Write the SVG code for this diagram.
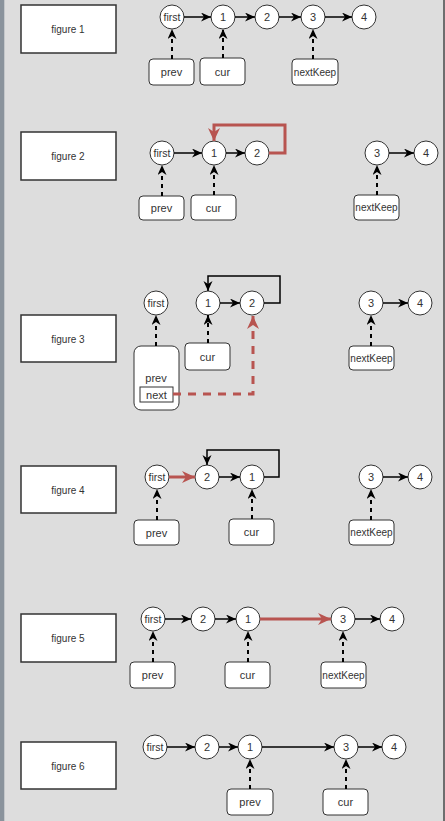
<svg xmlns="http://www.w3.org/2000/svg" width="445" height="821" viewBox="0 0 445 821">
<style>
text{font-family:"Liberation Sans",Arial,sans-serif;font-size:11px;fill:#333;text-anchor:middle;dominant-baseline:central}
.lab{fill:#fff;stroke:#333;stroke-width:1.5}
.c{fill:#fff;stroke:#333;stroke-width:1}
.b{fill:#fff;stroke:#333;stroke-width:1}
.e{fill:none;stroke:#000;stroke-width:1.5;marker-end:url(#ah)}
.d{fill:none;stroke:#000;stroke-width:2;stroke-dasharray:4 4;marker-end:url(#ah)}
.r{fill:none;stroke:#b85450;stroke-width:3;marker-end:url(#rh)}
.rd{fill:none;stroke:#b85450;stroke-width:3;stroke-dasharray:8 7;marker-end:url(#rh)}
.f{font-size:10.5px}
.k{font-size:10px}
.t{font-size:10px}
</style>
<defs>
<marker id="ah" markerUnits="userSpaceOnUse" markerWidth="11" markerHeight="10" refX="10" refY="4.5" orient="auto"><path d="M0,0 L10,4.5 L0,9 L3,4.5 z" fill="#000"/></marker>
<marker id="rh" markerUnits="userSpaceOnUse" markerWidth="15" markerHeight="13" refX="13" refY="6" orient="auto"><path d="M0,0 L13,6 L0,12 L4,6 z" fill="#b85450"/></marker>
</defs>
<rect x="0" y="0" width="445" height="821" fill="#dddddd"/>
<rect x="0" y="0" width="4" height="821" fill="#8a939c"/>
<rect x="4" y="0" width="1" height="821" fill="#c4c7ca"/>
<rect x="443" y="0" width="2" height="821" fill="#6e6e6e"/>

<!-- figure 1 -->
<g id="fig1-label"><rect class="lab" x="21" y="5" width="95" height="48"/><text class="t" x="68" y="29">figure 1</text></g>
<g id="fig1-first"><circle class="c" cx="172" cy="17" r="12"/><text class="f" x="172" y="17">first</text></g>
<g id="fig1-n1"><circle class="c" cx="223" cy="17" r="12"/><text x="223" y="17">1</text></g>
<g id="fig1-n2"><circle class="c" cx="267" cy="17" r="12"/><text x="267" y="17">2</text></g>
<g id="fig1-n3"><circle class="c" cx="313" cy="17" r="12"/><text x="313" y="17">3</text></g>
<g id="fig1-n4"><circle class="c" cx="364" cy="17" r="12"/><text x="364" y="17">4</text></g>
<g id="fig1-prev"><rect class="b" x="149" y="59" width="45" height="26" rx="4"/><text x="171.5" y="72">prev</text></g>
<g id="fig1-cur"><rect class="b" x="200" y="58" width="45" height="27" rx="4"/><text x="222.5" y="71.5">cur</text></g>
<g id="fig1-nextKeep"><rect class="b" x="292" y="59" width="46" height="26" rx="4"/><text class="k" x="315" y="72">nextKeep</text></g>
<g id="fig1-edges">
<path class="e" d="M184,17 L211,17"/><path class="e" d="M235,17 L255,17"/><path class="e" d="M279,17 L301,17"/><path class="e" d="M325,17 L352,17"/>
<path class="d" d="M172,59 L172,29"/><path class="d" d="M223,58 L223,29"/><path class="d" d="M313,59 L313,29"/>
</g>

<!-- figure 2 -->
<g id="fig2-label"><rect class="lab" x="21" y="132" width="95" height="48"/><text class="t" x="68" y="156">figure 2</text></g>
<g id="fig2-first"><circle class="c" cx="162" cy="153" r="12"/><text class="f" x="162" y="153">first</text></g>
<g id="fig2-n1"><circle class="c" cx="214" cy="153" r="12"/><text x="214" y="153">1</text></g>
<g id="fig2-n2"><circle class="c" cx="257" cy="153" r="12"/><text x="257" y="153">2</text></g>
<g id="fig2-n3"><circle class="c" cx="377" cy="153" r="12"/><text x="377" y="153">3</text></g>
<g id="fig2-n4"><circle class="c" cx="426" cy="153" r="12"/><text x="426" y="153">4</text></g>
<g id="fig2-prev"><rect class="b" x="139" y="196" width="45" height="24" rx="4"/><text x="161.5" y="208">prev</text></g>
<g id="fig2-cur"><rect class="b" x="191" y="195" width="45" height="25" rx="4"/><text x="213.5" y="207.5">cur</text></g>
<g id="fig2-nextKeep"><rect class="b" x="354" y="195" width="45" height="25" rx="4"/><text class="k" x="376.5" y="207.5">nextKeep</text></g>
<g id="fig2-edges">
<path class="e" d="M174,153 L202,153"/><path class="e" d="M226,153 L245,153"/><path class="e" d="M389,153 L414,153"/>
<path class="r" d="M269,153 L285,153 L285,125 L214,125 L214,141"/>
<path class="d" d="M162,196 L162,165"/><path class="d" d="M214,195 L214,165"/><path class="d" d="M377,195 L377,165"/>
</g>

<!-- figure 3 -->
<g id="fig3-label"><rect class="lab" x="21" y="315" width="95" height="47"/><text class="t" x="68" y="339">figure 3</text></g>
<g id="fig3-first"><circle class="c" cx="156" cy="303" r="12"/><text class="f" x="156" y="303">first</text></g>
<g id="fig3-n1"><circle class="c" cx="208" cy="303" r="12"/><text x="208" y="303">1</text></g>
<g id="fig3-n2"><circle class="c" cx="252" cy="303" r="12"/><text x="252" y="303">2</text></g>
<g id="fig3-n3"><circle class="c" cx="371" cy="303" r="12"/><text x="371" y="303">3</text></g>
<g id="fig3-n4"><circle class="c" cx="420" cy="303" r="12"/><text x="420" y="303">4</text></g>
<g id="fig3-prev"><rect class="b" x="134" y="346" width="45" height="64" rx="7"/><text x="156" y="378">prev</text><rect class="b" x="140" y="387" width="33" height="15"/><text x="156.5" y="394.5">next</text></g>
<g id="fig3-cur"><rect class="b" x="185" y="343" width="45" height="27" rx="4"/><text x="207.5" y="356.5">cur</text></g>
<g id="fig3-nextKeep"><rect class="b" x="349" y="346" width="45" height="24" rx="4"/><text class="k" x="371.5" y="358">nextKeep</text></g>
<g id="fig3-edges">
<path class="e" d="M220,303 L240,303"/><path class="e" d="M383,303 L408,303"/>
<path class="e" d="M264,303 L280,303 L280,276 L208,276 L208,291"/>
<path class="d" d="M156,346 L156,315"/><path class="d" d="M208,343 L208,315"/><path class="d" d="M371,346 L371,315"/>
<path class="rd" d="M173,394 L253,394 L253,316"/>
</g>

<!-- figure 4 -->
<g id="fig4-label"><rect class="lab" x="21" y="466" width="95" height="47"/><text class="t" x="68" y="490">figure 4</text></g>
<g id="fig4-first"><circle class="c" cx="157" cy="477" r="12"/><text class="f" x="157" y="477">first</text></g>
<g id="fig4-n2"><circle class="c" cx="207" cy="477" r="12"/><text x="207" y="477">2</text></g>
<g id="fig4-n1"><circle class="c" cx="252" cy="477" r="12"/><text x="252" y="477">1</text></g>
<g id="fig4-n3"><circle class="c" cx="371" cy="477" r="12"/><text x="371" y="477">3</text></g>
<g id="fig4-n4"><circle class="c" cx="420" cy="477" r="12"/><text x="420" y="477">4</text></g>
<g id="fig4-prev"><rect class="b" x="134" y="520" width="45" height="25" rx="4"/><text x="156.5" y="532.5">prev</text></g>
<g id="fig4-cur"><rect class="b" x="229" y="519" width="45" height="26" rx="4"/><text x="251.5" y="532">cur</text></g>
<g id="fig4-nextKeep"><rect class="b" x="349" y="520" width="45" height="25" rx="4"/><text class="k" x="371.5" y="532.5">nextKeep</text></g>
<g id="fig4-edges">
<path class="r" d="M169,477 L195,477"/><path class="e" d="M219,477 L240,477"/><path class="e" d="M383,477 L408,477"/>
<path class="e" d="M264,477 L279,477 L279,450 L207,450 L207,465"/>
<path class="d" d="M157,520 L157,489"/><path class="d" d="M252,519 L252,489"/><path class="d" d="M371,520 L371,489"/>
</g>

<!-- figure 5 -->
<g id="fig5-label"><rect class="lab" x="21" y="614" width="95" height="48"/><text class="t" x="68" y="638">figure 5</text></g>
<g id="fig5-first"><circle class="c" cx="153" cy="619" r="12"/><text class="f" x="153" y="619">first</text></g>
<g id="fig5-n2"><circle class="c" cx="203" cy="619" r="12"/><text x="203" y="619">2</text></g>
<g id="fig5-n1"><circle class="c" cx="248" cy="619" r="12"/><text x="248" y="619">1</text></g>
<g id="fig5-n3"><circle class="c" cx="343" cy="619" r="12"/><text x="343" y="619">3</text></g>
<g id="fig5-n4"><circle class="c" cx="392" cy="619" r="12"/><text x="392" y="619">4</text></g>
<g id="fig5-prev"><rect class="b" x="130" y="662" width="45" height="26" rx="4"/><text x="152.5" y="675">prev</text></g>
<g id="fig5-cur"><rect class="b" x="225" y="662" width="45" height="26" rx="4"/><text x="247.5" y="675">cur</text></g>
<g id="fig5-nextKeep"><rect class="b" x="321" y="662" width="45" height="26" rx="4"/><text class="k" x="343.5" y="675">nextKeep</text></g>
<g id="fig5-edges">
<path class="e" d="M165,619 L191,619"/><path class="e" d="M215,619 L236,619"/><path class="r" d="M260,619 L331,619"/><path class="e" d="M355,619 L380,619"/>
<path class="d" d="M153,662 L153,631"/><path class="d" d="M248,662 L248,631"/><path class="d" d="M343,662 L343,631"/>
</g>

<!-- figure 6 -->
<g id="fig6-label"><rect class="lab" x="21" y="742" width="95" height="47"/><text class="t" x="68" y="766">figure 6</text></g>
<g id="fig6-first"><circle class="c" cx="155" cy="747" r="12"/><text class="f" x="155" y="747">first</text></g>
<g id="fig6-n2"><circle class="c" cx="207" cy="747" r="12"/><text x="207" y="747">2</text></g>
<g id="fig6-n1"><circle class="c" cx="250" cy="747" r="12"/><text x="250" y="747">1</text></g>
<g id="fig6-n3"><circle class="c" cx="346" cy="747" r="12"/><text x="346" y="747">3</text></g>
<g id="fig6-n4"><circle class="c" cx="394" cy="747" r="12"/><text x="394" y="747">4</text></g>
<g id="fig6-prev"><rect class="b" x="227" y="789" width="46" height="26" rx="4"/><text x="250" y="802">prev</text></g>
<g id="fig6-cur"><rect class="b" x="323" y="789" width="45" height="26" rx="4"/><text x="345.5" y="802">cur</text></g>
<g id="fig6-edges">
<path class="e" d="M167,747 L195,747"/><path class="e" d="M219,747 L238,747"/><path class="e" d="M262,747 L334,747"/><path class="e" d="M358,747 L382,747"/>
<path class="d" d="M250,789 L250,759"/><path class="d" d="M346,789 L346,759"/>
</g>
</svg>
